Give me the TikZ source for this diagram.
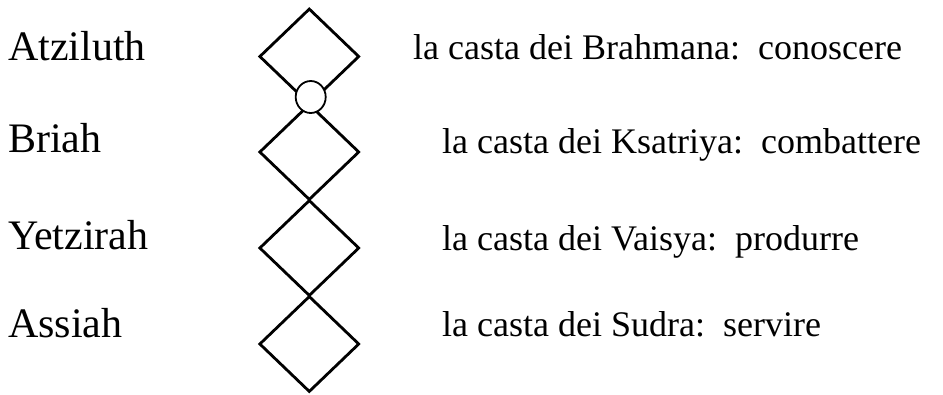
\documentclass[tikz,border=0pt]{standalone}
\usepackage{fontspec}
\setmainfont{Liberation Serif}
\usepackage{tikz}
\usetikzlibrary{positioning, shapes.geometric}

\begin{document}
\begin{tikzpicture}[x=1pt, y=-1pt,
  world/.style={anchor=base west, inner sep=0pt, font=\fontsize{42}{50}\selectfont},
  caste/.style={anchor=base west, inner sep=0pt, font=\fontsize{36}{43}\selectfont},
  rhomb/.style={diamond, draw, line width=2.8pt, inner sep=0pt, minimum width=100pt, minimum height=96pt},
  knot/.style={ellipse, draw, fill=white, line width=1.8pt, inner sep=0pt, minimum width=30pt, minimum height=32pt}]
  \useasboundingbox (0,0) rectangle (943,394);

  % Four stacked diamonds
  \foreach \i/\yy in {1/56.5, 2/152, 3/248, 4/344}
    \node[rhomb] (d\i) at (309.3, \yy) {};
  \node[knot] (k) at (310.7, 97) {};

  % Worlds on the left
  \node[world] (atz) at (8, 60) {Atziluth};
  \node[world] (bri) at (8, 152) {Briah};
  \node[world] (yet) at (8, 249) {Yetzirah};
  \node[world] (ass) at (8, 337) {Assiah};

  % Castes on the right
  \node[caste] (bra) at (413, 59.3) {la casta dei Brahmana:\ \ conoscere};
  \node[caste] (ksa) at (442, 153.3) {la casta dei Ksatriya:\ \ combattere};
  \node[caste] (vai) at (442, 250) {la casta dei Vaisya:\ \ produrre};
  \node[caste] (sud) at (442, 336.7) {la casta dei Sudra:\ \ servire};
\end{tikzpicture}
\end{document}
